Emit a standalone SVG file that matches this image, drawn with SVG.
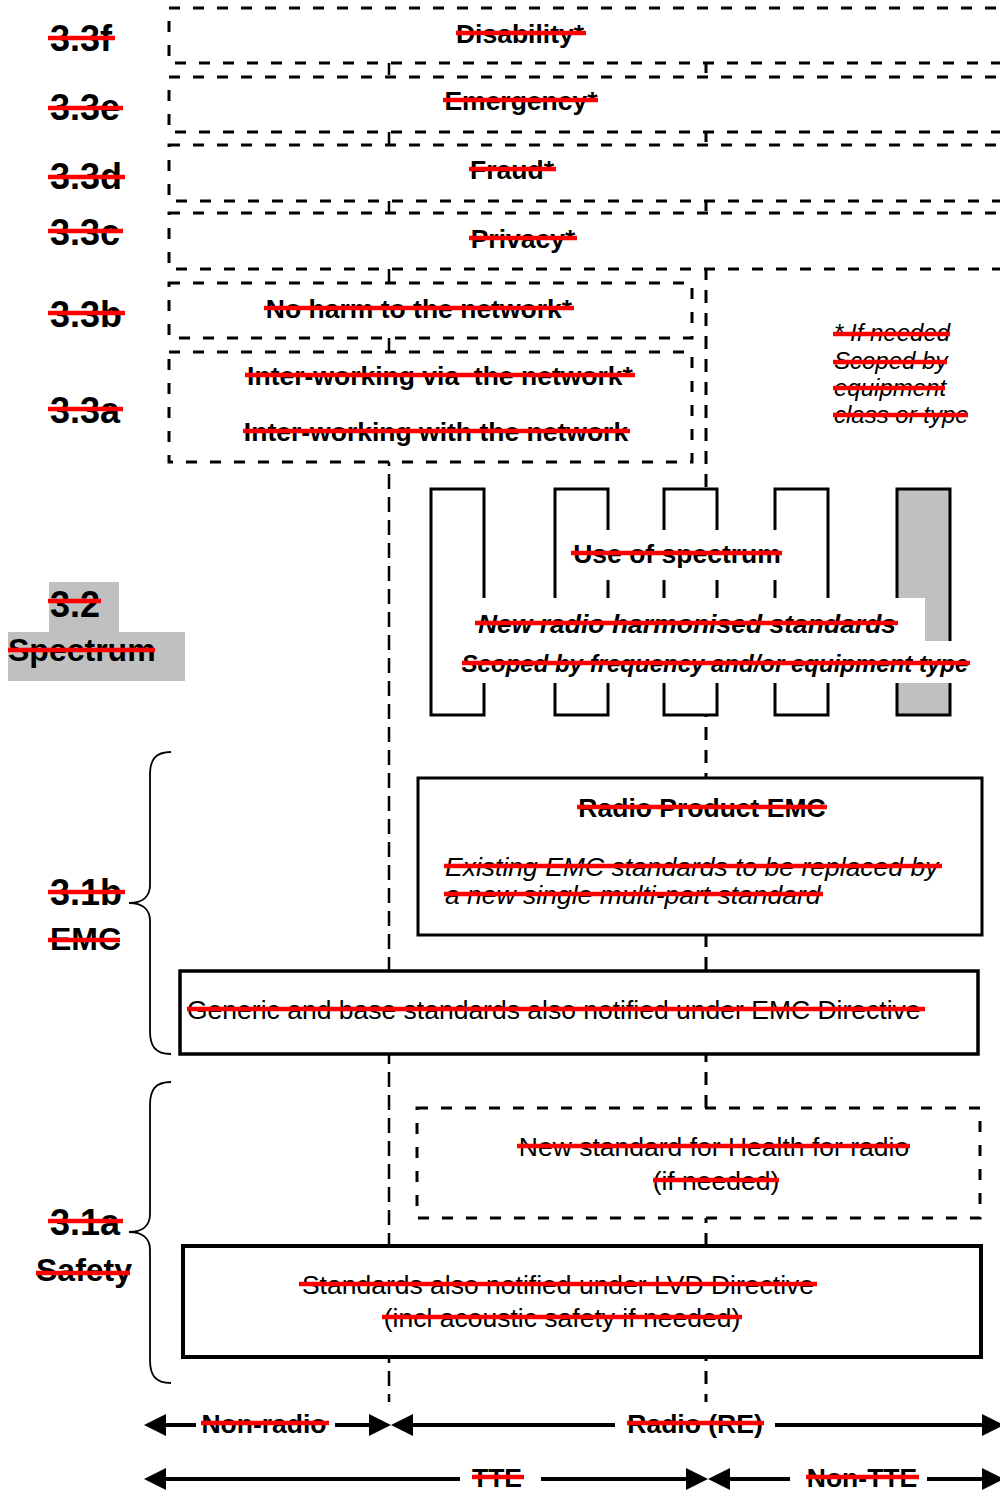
<svg xmlns="http://www.w3.org/2000/svg" width="1000" height="1494" viewBox="0 0 1000 1494">
<style>
text{font-family:"Liberation Sans",Arial,sans-serif;fill:#000}
.lbl{font-size:36px;font-weight:bold}
.lblw{font-size:32px;font-weight:bold}
.t{font-size:26.5px}
.b{font-weight:bold}
.i{font-style:italic}
.fn{font-size:24px;font-style:italic}
.m{text-anchor:middle}
.pre{white-space:pre}
.st{stroke:#ff0000;stroke-width:4.5;fill:none}
.dbox{fill:#fff;stroke:#000;stroke-width:3;stroke-dasharray:11 13}
.sbox{fill:#fff;stroke:#000;stroke-width:3.5}
.comb{fill:#fff;stroke:#000;stroke-width:3}
.gray{fill:#c0c0c0}
.vl{fill:none;stroke:#000;stroke-width:3;stroke-dasharray:13 10}
.vl2{fill:none;stroke:#000;stroke-width:2.5;stroke-dasharray:15 8}
.brace{fill:none;stroke:#000;stroke-width:1.8}
.arr{stroke:#000;stroke-width:4}
</style>

<g id="connectors">
  <line class="vl2" x1="389" y1="14" x2="389" y2="1402"/>
  <line class="vl" x1="706" y1="14" x2="706" y2="1402"/>
</g>

<g id="node-3-3f">
  <rect class="dbox" x="169" y="8" width="845" height="55"/>
  <text class="t b m" x="520" y="43">Disability*</text>
  <line class="st" x1="456" y1="33" x2="586" y2="33"/>
</g>
<g id="node-3-3e">
  <rect class="dbox" x="169" y="77" width="845" height="55"/>
  <text class="t b m" x="521" y="110">Emergency*</text>
  <line class="st" x1="443" y1="100" x2="598" y2="100"/>
</g>
<g id="node-3-3d">
  <rect class="dbox" x="169" y="145" width="845" height="56"/>
  <text class="t b m" x="512" y="179">Fraud*</text>
  <line class="st" x1="469" y1="169" x2="556" y2="169"/>
</g>
<g id="node-3-3c">
  <rect class="dbox" x="169" y="213" width="845" height="56"/>
  <text class="t b m" x="523" y="248">Privacy*</text>
  <line class="st" x1="469" y1="238" x2="577" y2="238"/>
</g>
<g id="node-3-3b">
  <rect class="dbox" x="169" y="283" width="523" height="55"/>
  <text class="t b m" x="419" y="318">No harm to the network*</text>
  <line class="st" x1="264" y1="308" x2="574" y2="308"/>
</g>
<g id="node-3-3a">
  <rect class="dbox" x="169" y="352" width="523" height="110"/>
  <text class="t b m pre" x="440" y="385">Inter-working via  the network*</text>
  <line class="st" x1="245" y1="375" x2="635" y2="375"/>
  <text class="t b m" x="436" y="441">Inter-working with the network</text>
  <line class="st" x1="243" y1="431" x2="630" y2="431"/>
</g>

<g id="footnote">
  <text class="fn" x="834" y="341">* If needed</text>
  <line class="st" x1="833" y1="334" x2="950" y2="334"/>
  <text class="fn" x="834" y="369">Scoped by</text>
  <line class="st" x1="833" y1="362" x2="947" y2="362"/>
  <text class="fn" x="834" y="396">equipment</text>
  <line class="st" x1="833" y1="388" x2="945" y2="388"/>
  <text class="fn" x="834" y="423">class or type</text>
  <line class="st" x1="833" y1="415" x2="968" y2="415"/>
</g>

<g id="labels">
  <text class="lbl" x="50" y="51">3.3f</text>
  <line class="st" x1="48" y1="38" x2="115" y2="38"/>
  <text class="lbl" x="50" y="120">3.3e</text>
  <line class="st" x1="48" y1="108" x2="123" y2="108"/>
  <text class="lbl" x="50" y="189">3.3d</text>
  <line class="st" x1="48" y1="177" x2="125" y2="177"/>
  <text class="lbl" x="50" y="245">3.3c</text>
  <line class="st" x1="48" y1="231" x2="123" y2="231"/>
  <text class="lbl" x="50" y="327">3.3b</text>
  <line class="st" x1="48" y1="313" x2="125" y2="313"/>
  <text class="lbl" x="50" y="423">3.3a</text>
  <line class="st" x1="48" y1="409" x2="123" y2="409"/>
</g>

<g id="node-spectrum-label">
  <rect class="gray" x="49" y="582" width="70" height="50"/>
  <rect class="gray" x="8" y="632" width="177" height="49"/>
  <text class="lbl" x="50" y="617">3.2</text>
  <line class="st" x1="48" y1="601" x2="101" y2="601"/>
  <text class="lblw" x="8" y="661">Spectrum</text>
  <line class="st" x1="8" y1="650" x2="155" y2="650"/>
</g>

<g id="node-spectrum">
  <rect class="comb" x="431" y="489" width="53" height="226"/>
  <rect class="comb" x="555" y="489" width="53" height="226"/>
  <rect class="comb" x="664" y="489" width="53" height="226"/>
  <rect class="comb" x="775" y="489" width="53" height="226"/>
  <rect class="comb" x="897" y="489" width="53" height="226" style="fill:#c0c0c0"/>
  <rect fill="#fff" x="557" y="530" width="243" height="50"/>
  <rect fill="#fff" x="470" y="598" width="455" height="43"/>
  <rect fill="#fff" x="455" y="641" width="545" height="42"/>
  <text class="t b m" x="677" y="563">Use of spectrum</text>
  <line class="st" x1="571" y1="553" x2="782" y2="553"/>
  <text class="t b i m" x="687" y="633">New radio harmonised standards</text>
  <line class="st" x1="475" y1="623" x2="898" y2="623"/>
  <text class="b i m" x="715" y="672" style="font-size:24px">Scoped by frequency and/or equipment type</text>
  <line class="st" x1="462" y1="663" x2="970" y2="663"/>
</g>

<g id="node-3-1b">
  <path class="brace" d="M171,752 C155,752 150,760 150,775 L150,885 C150,897 142,903 129,903 C142,903 150,909 150,921 L150,1031 C150,1046 155,1054 171,1054"/>
  <text class="lbl" x="50" y="905">3.1b</text>
  <line class="st" x1="48" y1="892" x2="125" y2="892"/>
  <text class="lblw" x="50" y="950">EMC</text>
  <line class="st" x1="48" y1="940" x2="120" y2="940"/>
</g>

<g id="node-radio-emc">
  <rect class="sbox" x="418" y="778" width="564" height="157" style="stroke-width:3"/>
  <text class="t b m" x="702" y="817">Radio Product EMC</text>
  <line class="st" x1="577" y1="807" x2="827" y2="807"/>
  <text class="t i" x="445" y="876">Existing EMC standards to be replaced by</text>
  <line class="st" x1="444" y1="866" x2="942" y2="866"/>
  <text class="t i" x="445" y="904">a new single multi-part standard</text>
  <line class="st" x1="444" y1="894" x2="823" y2="894"/>
</g>

<g id="node-generic">
  <rect class="sbox" x="180" y="971" width="798" height="83"/>
  <text class="t" x="187" y="1019">Generic and base standards also notified under EMC Directive</text>
  <line class="st" x1="187" y1="1009" x2="925" y2="1009"/>
</g>

<g id="node-3-1a">
  <path class="brace" d="M171,1082 C155,1082 150,1090 150,1105 L150,1214 C150,1226 142,1232 129,1232 C142,1232 150,1238 150,1250 L150,1360 C150,1375 155,1383 171,1383"/>
  <text class="lbl" x="50" y="1235">3.1a</text>
  <line class="st" x1="48" y1="1221" x2="123" y2="1221"/>
  <text class="lblw" x="36" y="1281">Safety</text>
  <line class="st" x1="36" y1="1273" x2="130" y2="1273"/>
</g>

<g id="node-health">
  <rect class="dbox" x="417" y="1108" width="563" height="110"/>
  <text class="t m" x="714" y="1156">New standard for Health for radio</text>
  <line class="st" x1="517" y1="1146" x2="910" y2="1146"/>
  <text class="t m" x="716" y="1190">(if needed)</text>
  <line class="st" x1="653" y1="1180" x2="779" y2="1180"/>
</g>

<g id="node-lvd">
  <rect class="sbox" x="183" y="1246" width="798" height="111" style="stroke-width:4"/>
  <text class="t m" x="558" y="1294">Standards also notified under LVD Directive</text>
  <line class="st" x1="299" y1="1284" x2="817" y2="1284"/>
  <text class="t m" x="562" y="1327">(incl acoustic safety if needed)</text>
  <line class="st" x1="382" y1="1317" x2="742" y2="1317"/>
</g>

<g id="scope-arrows">
  <line class="arr" x1="160" y1="1425" x2="196" y2="1425"/>
  <line class="arr" x1="335" y1="1425" x2="375" y2="1425"/>
  <line class="arr" x1="407" y1="1425" x2="615" y2="1425"/>
  <line class="arr" x1="775" y1="1425" x2="990" y2="1425"/>
  <polygon points="144,1425 166,1414 166,1436"/>
  <polygon points="391,1425 369,1414 369,1436"/>
  <polygon points="391,1425 413,1414 413,1436"/>
  <polygon points="1004,1425 982,1414 982,1436"/>
  <text class="t b m" x="264" y="1433">Non-radio</text>
  <line class="st" x1="201" y1="1423" x2="329" y2="1423"/>
  <text class="t b m" x="695" y="1433">Radio (RE)</text>
  <line class="st" x1="627" y1="1423" x2="764" y2="1423"/>

  <line class="arr" x1="160" y1="1479" x2="460" y2="1479"/>
  <line class="arr" x1="541" y1="1479" x2="692" y2="1479"/>
  <line class="arr" x1="724" y1="1479" x2="790" y2="1479"/>
  <line class="arr" x1="927" y1="1479" x2="990" y2="1479"/>
  <polygon points="144,1479 166,1468 166,1490"/>
  <polygon points="708,1479 686,1468 686,1490"/>
  <polygon points="708,1479 730,1468 730,1490"/>
  <polygon points="1004,1479 982,1468 982,1490"/>
  <text class="t b m" x="497" y="1487">TTE</text>
  <line class="st" x1="472" y1="1477" x2="524" y2="1477"/>
  <text class="t b m" x="862" y="1487">Non-TTE</text>
  <line class="st" x1="806" y1="1477" x2="919" y2="1477"/>
</g>
</svg>
